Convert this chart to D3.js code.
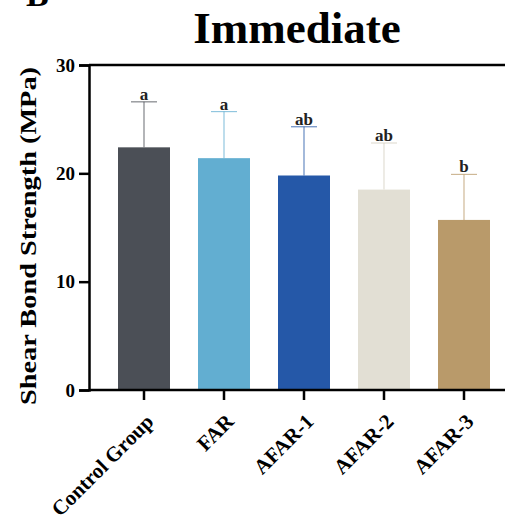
<!DOCTYPE html>
<html>
<head>
<meta charset="utf-8">
<script src="https://cdn.jsdelivr.net/npm/d3@7"></script>
<style>
  body { margin: 0; background: #fff; }
  svg { display: block; font-family: "Liberation Serif", "Times New Roman", serif; }
</style>
</head>
<body>
<div id="chart"></div>
<script>
// data
const groups = ["Control Group", "FAR", "AFAR-1", "AFAR-2", "AFAR-3"];
const means = [22.4, 21.4, 19.8, 18.5, 15.7];
const sds = [4.2, 4.3, 4.5, 4.3, 4.2];
const letters = ["a", "a", "ab", "ab", "b"];
const colors = ["#4b4f56", "#62aed1", "#2558a8", "#e2dfd4", "#b99a6a"];
const yTicks = [0, 10, 20, 30];

const width = 505, height = 527;
const margin = {top: 65, bottom: 137, left: 89};

const svg = d3.select("#chart").append("svg")
    .attr("width", width)
    .attr("height", height);

const x = d3.scaleBand()
    .domain(groups)
    .range([margin.left + 15, margin.left + 15 + 80 * groups.length])
    .paddingInner(0.35)
    .paddingOuter(0.175);

const y = d3.scaleLinear()
    .domain([0, 30])
    .range([height - margin.bottom, margin.top]);

const errColor = c => c === "#e2dfd4" ? "#d4d0c2" : c;

// error bars first so the bars sit on top
const err = svg.append("g")
    .attr("stroke-opacity", 0.7)
    .attr("stroke-width", 1.2);
groups.forEach((g, i) => {
  const cx = x(g) + x.bandwidth() / 2;
  const top = y(means[i] + sds[i]);
  err.append("line")
      .attr("x1", cx).attr("x2", cx)
      .attr("y1", y(means[i])).attr("y2", top)
      .attr("stroke", errColor(colors[i]));
  err.append("line")
      .attr("x1", cx - 13).attr("x2", cx + 13)
      .attr("y1", top).attr("y2", top)
      .attr("stroke", errColor(colors[i]));
});

svg.append("g")
  .selectAll("rect")
  .data(groups)
  .join("rect")
    .attr("x", d => x(d))
    .attr("width", x.bandwidth())
    .attr("y", (d, i) => y(means[i]))
    .attr("height", (d, i) => y(0) - y(means[i]))
    .attr("fill", (d, i) => colors[i]);

// significance letters
svg.append("g")
  .selectAll("text")
  .data(groups)
  .join("text")
    .attr("x", d => x(d) + x.bandwidth() / 2)
    .attr("y", (d, i) => y(means[i] + sds[i]) - 2)
    .attr("text-anchor", "middle")
    .attr("font-weight", "bold")
    .attr("font-size", 17)
    .attr("fill", "#222")
    .text((d, i) => letters[i]);

// axes
const yAxis = svg.append("g")
    .attr("transform", `translate(${margin.left},0)`)
    .call(d3.axisLeft(y).tickValues(yTicks).tickSize(10).tickPadding(4));
yAxis.select(".domain").attr("stroke-width", 2.5);
yAxis.selectAll(".tick line").attr("stroke-width", 2.5);
yAxis.selectAll("text")
    .attr("font-size", 19).attr("font-weight", "bold")
    .attr("font-family", "Liberation Serif");

const xAxis = svg.append("g")
    .attr("transform", `translate(0,${y(0)})`)
    .call(d3.axisBottom(x).tickSize(10).tickSizeOuter(0).tickPadding(4));
xAxis.select(".domain").attr("d", `M${margin.left},0H${width + 5}`).attr("stroke-width", 2.5);
xAxis.selectAll(".tick line").attr("stroke-width", 2.5);
xAxis.selectAll("text")
    .attr("font-size", 21).attr("font-weight", "bold")
    .attr("font-family", "Liberation Serif")
    .attr("text-anchor", "end")
    .attr("dy", "0.2em")
    .attr("transform", "translate(-2,20) rotate(-45)");

// top frame line
svg.append("line")
    .attr("x1", margin.left).attr("x2", width + 5)
    .attr("y1", y(30)).attr("y2", y(30))
    .attr("stroke", "#000").attr("stroke-width", 2.5);

// y label
svg.append("text")
    .attr("transform", `translate(36,236) rotate(-90)`)
    .attr("text-anchor", "middle")
    .attr("font-size", 23)
    .attr("font-weight", "bold")
    .attr("textLength", 338)
    .attr("lengthAdjust", "spacingAndGlyphs")
    .text("Shear Bond Strength (MPa)");

// title
svg.append("text")
    .attr("x", 297).attr("y", 43)
    .attr("text-anchor", "middle")
    .attr("font-size", 45)
    .attr("font-weight", "bold")
    .text("Immediate");

// panel letter, cut off by the top edge
svg.append("text")
    .attr("x", 26).attr("y", 6)
    .attr("font-size", 34)
    .attr("font-weight", "bold")
    .text("B");
</script>
</body>
</html>
